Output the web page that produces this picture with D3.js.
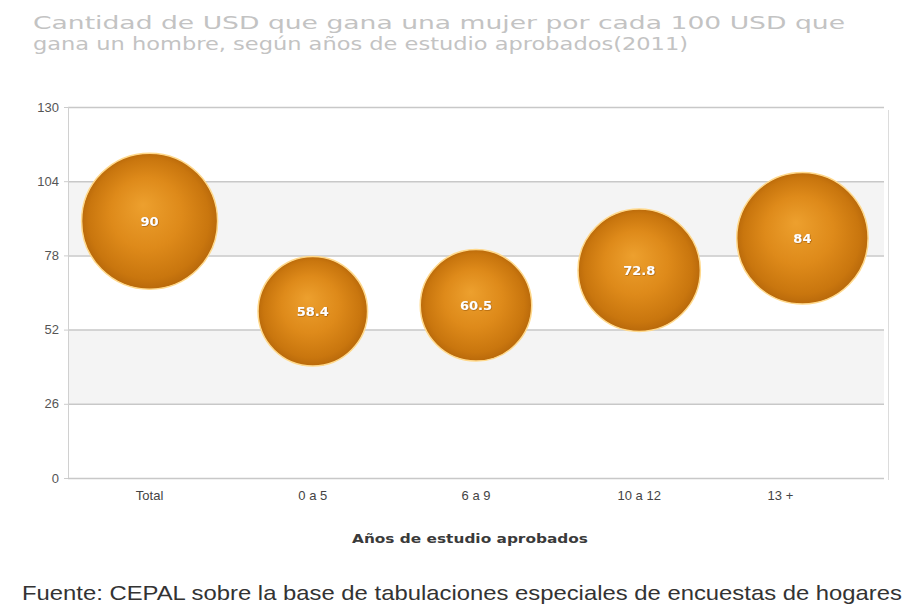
<!DOCTYPE html>
<html>
<head>
<meta charset="utf-8">
<script src="https://cdn.jsdelivr.net/npm/d3@7"></script>
<style>
  html, body { margin: 0; padding: 0; background: #ffffff; }
  svg { display: block; }
</style>
</head>
<body>
<svg id="chart" width="904" height="610"></svg>
<script>
// Data: USD earned by women per 100 USD earned by men, by years of schooling (2011)
const categories = ["Total", "0 a 5", "6 a 9", "10 a 12", "13 +"];
const values = [90, 58.4, 60.5, 72.8, 84];
const yTicks = [0, 26, 52, 78, 104, 130];
const titleLines = [
  "Cantidad de USD que gana una mujer por cada 100 USD que",
  "gana un hombre, según años de estudio aprobados(2011)"
];
const xAxisTitle = "Años de estudio aprobados";
const sourceNote = "Fuente: CEPAL sobre la base de tabulaciones especiales de encuestas de hogares";

const svg = d3.select("#chart");
const plot = { left: 68, right: 884, top: 107, bottom: 478 };

const x = d3.scaleBand().domain(categories).range([plot.left, plot.right]);
const y = d3.scaleLinear().domain([0, 130]).range([plot.bottom, plot.top]);
const r = d3.scaleSqrt().domain([0, 90]).range([0, 68]);

// Bubble fill
const defs = svg.append("defs");
const grad = defs.append("radialGradient")
  .attr("id", "ball").attr("cx", "50%").attr("cy", "50%").attr("r", "52%")
  .attr("fx", "45%").attr("fy", "38%");
grad.append("stop").attr("offset", "0%").attr("stop-color", "#eda02e");
grad.append("stop").attr("offset", "50%").attr("stop-color", "#de8a1a");
grad.append("stop").attr("offset", "85%").attr("stop-color", "#c9760e");
grad.append("stop").attr("offset", "100%").attr("stop-color", "#b5660a");

const shadow = defs.append("filter").attr("id", "txtShadow")
  .attr("x", "-20%").attr("y", "-20%").attr("width", "140%").attr("height", "140%");
shadow.append("feDropShadow").attr("dx", 0.5).attr("dy", 0.5)
  .attr("stdDeviation", 0.6).attr("flood-color", "#7a3f00").attr("flood-opacity", 0.8);

// Title: two lines
svg.append("g").selectAll("text").data(titleLines).join("text")
  .attr("x", 33)
  .attr("y", (d, i) => 29 + i * 21)
  .attr("font-family", "'DejaVu Sans', Verdana, sans-serif")
  .attr("font-size", 18)
  .attr("fill", "#c3c3c3")
  .attr("textLength", (d, i) => i === 0 ? 812 : 655)
  .attr("lengthAdjust", "spacingAndGlyphs")
  .text(d => d);

// Alternating background bands
const bands = d3.pairs(yTicks).filter((p, i) => i % 2 === 1);
svg.append("g").selectAll("rect").data(bands).join("rect")
  .attr("x", plot.left)
  .attr("width", plot.right - plot.left)
  .attr("y", d => y(d[1]))
  .attr("height", d => y(d[0]) - y(d[1]))
  .attr("fill", "#f4f4f4");

// Horizontal grid lines
svg.append("g").selectAll("line").data(yTicks).join("line")
  .attr("x1", plot.left).attr("x2", plot.right)
  .attr("y1", d => y(d) + 0.5).attr("y2", d => y(d) + 0.5)
  .attr("stroke", "#c8c8c8").attr("stroke-width", 1.5);

// Plot frame
svg.append("line")
  .attr("x1", plot.left + 0.5).attr("x2", plot.left + 0.5)
  .attr("y1", plot.top).attr("y2", plot.bottom)
  .attr("stroke", "#d0d0d0");
svg.append("line")
  .attr("x1", plot.right + 4.5).attr("x2", plot.right + 4.5)
  .attr("y1", plot.top + 3).attr("y2", plot.bottom + 2)
  .attr("stroke", "#dcdcdc");

// Y axis labels
const yAxis = d3.axisLeft(y).tickValues(yTicks).tickSize(4).tickPadding(5);
const gy = svg.append("g").attr("transform", `translate(${plot.left},0)`).call(yAxis);
gy.select(".domain").remove();
gy.selectAll(".tick line").attr("stroke", "#cccccc");
gy.selectAll("text")
  .attr("font-family", "'Liberation Sans', Arial, sans-serif")
  .attr("font-size", 13).attr("fill", "#555");

// X axis labels
const xAxis = d3.axisBottom(x).tickSize(0).tickPadding(13);
const gx = svg.append("g").attr("transform", `translate(0,${plot.bottom})`).call(xAxis);
gx.select(".domain").remove();
gx.selectAll("text")
  .attr("font-family", "'Liberation Sans', Arial, sans-serif")
  .attr("font-size", 13).attr("fill", "#444");
// the last category label sits a little left of its slot
gx.selectAll(".tick:last-of-type text").attr("dx", -22);

// X axis title
svg.append("text")
  .attr("x", (plot.left + plot.right) / 2 - 6)
  .attr("y", 543)
  .attr("text-anchor", "middle")
  .attr("font-family", "'DejaVu Sans', Verdana, sans-serif")
  .attr("font-size", 13).attr("font-weight", "bold")
  .attr("fill", "#3a3a3a")
  .attr("textLength", 236)
  .attr("lengthAdjust", "spacingAndGlyphs")
  .text(xAxisTitle);

// Bubbles
const pts = categories.map((c, i) => ({ c, v: values[i] }));
const cx = d => x(d.c) + x.bandwidth() / 2;

svg.append("g").selectAll("circle").data(pts).join("circle")
  .attr("cx", cx)
  .attr("cy", d => y(d.v))
  .attr("r", d => r(d.v))
  .attr("fill", "url(#ball)")
  .attr("stroke", "#ffd98c")
  .attr("stroke-width", 1.5);

svg.append("g").selectAll("text").data(pts).join("text")
  .attr("x", cx)
  .attr("y", d => y(d.v))
  .attr("dy", "0.35em")
  .attr("text-anchor", "middle")
  .attr("font-family", "'DejaVu Sans', Verdana, sans-serif")
  .attr("font-size", 13).attr("font-weight", "bold")
  .attr("fill", "#ffffff")
  .attr("filter", "url(#txtShadow)")
  .text(d => d.v);

// Source note
svg.append("text")
  .attr("x", 22)
  .attr("y", 600)
  .attr("font-family", "'Liberation Sans', Arial, sans-serif")
  .attr("font-size", 21)
  .attr("fill", "#333")
  .attr("textLength", 880)
  .attr("lengthAdjust", "spacingAndGlyphs")
  .text(sourceNote);
</script>
</body>
</html>
